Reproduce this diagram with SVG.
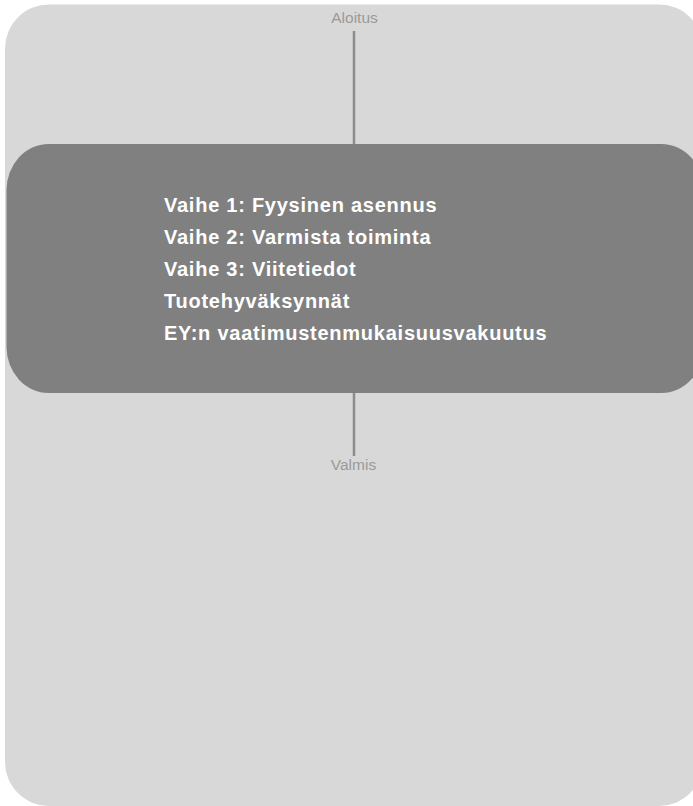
<svg xmlns="http://www.w3.org/2000/svg" width="693" height="806" viewBox="0 0 693 806">
<style>
.lbl{font-family:"Liberation Sans",Arial,sans-serif;font-size:15.5px;fill:#9a9a9a;text-anchor:middle}
.item{font-family:"Liberation Sans",Arial,sans-serif;font-size:20px;font-weight:bold;fill:#ffffff;letter-spacing:0.75px}
.conn{stroke:#8c8c8c;stroke-width:2.5;fill:none}
</style>
<rect width="693" height="806" fill="#ffffff"/>
<g id="container">
<rect x="5" y="4.5" width="698" height="801.5" rx="44" ry="44" fill="#d8d8d8"/>
</g>
<g id="connectors">
<line class="conn" x1="354" y1="31" x2="354" y2="144"/>
<line class="conn" x1="354" y1="393" x2="354" y2="456"/>
</g>
<g id="start">
<text class="lbl" x="354.5" y="22.7">Aloitus</text>
</g>
<g id="steps">
<rect x="6.5" y="144" width="697" height="249" rx="42" ry="46" fill="#808080"/>
<text class="item" x="164" y="211.5">Vaihe 1: Fyysinen asennus</text>
<text class="item" x="164" y="243.5">Vaihe 2: Varmista toiminta</text>
<text class="item" x="164" y="275.5">Vaihe 3: Viitetiedot</text>
<text class="item" x="164" y="307.5">Tuotehyväksynnät</text>
<text class="item" x="164" y="339.5">EY:n vaatimustenmukaisuusvakuutus</text>
</g>
<g id="end">
<text class="lbl" x="353.5" y="470">Valmis</text>
</g>
</svg>
